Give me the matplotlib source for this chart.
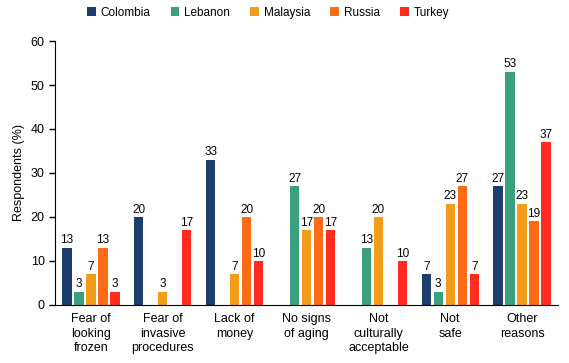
import matplotlib.pyplot as plt
import numpy as np

plt.rcParams['font.family'] = ['Liberation Sans', 'DejaVu Sans']

categories = ['Fear of\nlooking\nfrozen', 'Fear of\ninvasive\nprocedures', 'Lack of\nmoney',
              'No signs\nof aging', 'Not\nculturally\nacceptable', 'Not\nsafe', 'Other\nreasons']
countries = ['Colombia', 'Lebanon', 'Malaysia', 'Russia', 'Turkey']
colombia = [13, 20, 33, 0, 0, 7, 27]
lebanon = [3, 0, 0, 27, 13, 3, 53]
malaysia = [7, 3, 7, 17, 20, 23, 23]
russia = [13, 0, 20, 20, 0, 27, 19]
turkey = [3, 17, 10, 17, 10, 7, 37]
series = [colombia, lebanon, malaysia, russia, turkey]
colors = ['#1e3d6f', '#3a9f7f', '#f39c18', '#ff6a12', '#ff2b1c']

fig = plt.figure(figsize=(5.69, 3.63), dpi=100)
ax = fig.add_axes([0.0967, 0.160, 0.884, 0.727])

x = np.arange(len(categories))
step = 0.167
width = 0.13
for i, (name, vals) in enumerate(zip(countries, series)):
    vals = np.array(vals)
    bars = ax.bar(x + (i - 2) * step, vals, width, color=colors[i], label=name)
    labels = [str(v) if v > 0 else '' for v in vals]
    ax.bar_label(bars, labels=labels, padding=1, fontsize=8.5)

ax.set_xlim(-0.5, 6.5)
ax.set_ylim(0, 60)
ax.set_yticks(range(0, 61, 10))
ax.set_xticks(x)
ax.set_xticklabels(categories, fontsize=9, linespacing=1.25)
ax.tick_params(axis='x', length=0, pad=6)
ax.tick_params(axis='y', labelsize=9, length=4, width=1)
ax.set_ylabel('Respondents (%)', fontsize=9)
ax.spines['top'].set_visible(False)
ax.spines['right'].set_visible(False)

fig.legend(loc='center', bbox_to_anchor=(0.471, 0.965), ncol=5, frameon=False,
           fontsize=8.5, handlelength=0.75, handleheight=0.75, columnspacing=1.7,
           handletextpad=0.4)

fig.savefig('out.png', dpi=100)
